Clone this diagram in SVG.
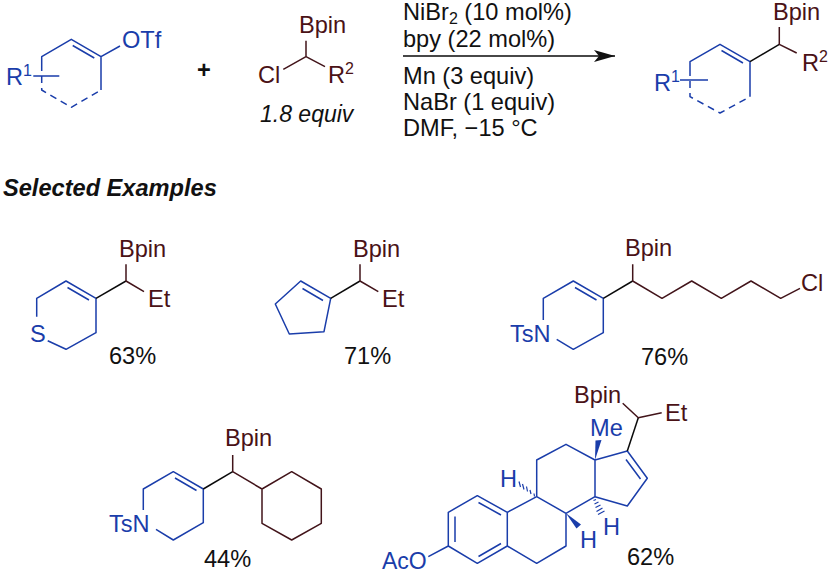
<svg xmlns="http://www.w3.org/2000/svg" width="829" height="574" viewBox="0 0 829 574">
<style>
text{font-family:"Liberation Sans",Arial,sans-serif;font-size:23.6px;fill:#111}
.b{fill:#1a3daa}.r{fill:#4a1216}
.s{font-size:16px}
path{fill:none;stroke-width:1.5;stroke-linejoin:round;stroke-linecap:butt}
.pb{stroke:#1a3daa}.pr{stroke:#42141a}.pk{stroke:#0a0a0a}
.d{stroke-dasharray:7 5}
.f{fill:#1a3daa;stroke:none}
.h{stroke:#1a3daa;stroke-width:1.2}
</style>
<defs>
<marker id="ah" markerUnits="userSpaceOnUse" markerWidth="22" markerHeight="14" refX="21" refY="7" orient="auto"><path d="M0 1 L21 7 L0 13 L5 7Z" style="fill:#111;stroke:none"/></marker>
</defs>
<rect width="829" height="574" fill="#fff"/>
<g id="connectors"><path d="M403 56H615" class="pk" marker-end="url(#ah)"/></g>
<g id="reactant-triflate">
<path class="pb" d="M41.7 64V56.7L71.3 39.3L101 56.7V90M72.7 45.5L94.3 58M101 56.7L120 46M33.3 76H59.3"/>
<path class="pb d" d="M41.7 64V90L71.3 107.3L101 90"/>
<text class="b" x="122" y="48">OTf</text><text class="b" x="6" y="85">R<tspan class="s" dy="-9">1</tspan></text>
</g>
<g id="plus"><text x="197" y="78" style="font-weight:bold">+</text></g>
<g id="reactant-chloride">
<path class="pr" d="M306 40.7V56.7M283.3 69.3L306 56.7L325 66.7"/>
<text class="r" x="299" y="32.7">Bpin</text><text class="r" x="258" y="83.3">Cl</text><text class="r" x="328" y="83">R<tspan class="s" dy="-9">2</tspan></text>
<text x="260" y="121.7" style="font-style:italic;font-size:23px">1.8 equiv</text>
</g>
<g id="conditions">
<text x="403" y="20">NiBr<tspan class="s" dy="4">2</tspan><tspan dy="-4"> (10 mol%)</tspan></text>
<text x="403" y="47">bpy (22 mol%)</text>
<text x="403" y="84">Mn (3 equiv)</text>
<text x="403" y="110">NaBr (1 equiv)</text>
<text x="403" y="136">DMF, −15 °C</text>
</g>
<g id="product">
<path class="pb" d="M690 69V61.7L720 44.3L750 61.7V96.7M721.5 50.5L743 63M680 80H708"/>
<path class="pb d" d="M690 69V96.7L720 113L750 96.7"/>
<path class="pk" d="M750 61.7L779.3 44.3"/>
<path class="pr" d="M779.3 27V44.3L796.7 53"/>
<text class="r" x="773" y="20">Bpin</text><text class="r" x="802" y="71">R<tspan class="s" dy="-9">2</tspan></text><text class="b" x="654" y="91">R<tspan class="s" dy="-9">1</tspan></text>
</g>
<g id="heading"><text x="3" y="196" style="font-weight:bold;font-style:italic">Selected Examples</text></g>
<g id="ex-63">
<path class="pb" d="M36.7 316.7V298.3L66 281L96 298.3V332.7L66 349.3L47.7 340.7M67.5 287.5L89 300"/>
<path class="pk" d="M96 298.3L126 281"/><path class="pr" d="M126 264.3V281L144 291.7"/>
<text class="b" x="30" y="341.5">S</text><text class="r" x="119" y="256.7">Bpin</text><text class="r" x="148" y="307">Et</text><text x="109" y="364">63%</text>
</g>
<g id="ex-71">
<path class="pb" d="M300.7 281L330.7 298.3L324 331.7L289.3 334L275.3 304ZM302.5 288.5L323 300.5"/>
<path class="pk" d="M330.7 298.3L360 281"/><path class="pr" d="M360 264.3V281L378.3 291.7"/>
<text class="r" x="353" y="256.7">Bpin</text><text class="r" x="382" y="307">Et</text><text x="344" y="364">71%</text>
</g>
<g id="ex-76">
<path class="pb" d="M543.3 320V298.3L573.3 281L603.3 298.3V332.7L573.3 349.3L556.7 339.3M575 287.5L596.5 300"/>
<path class="pk" d="M603.3 298.3L632.7 281"/>
<path class="pr" d="M632.7 264.3V281L662 298.3L691.7 281L721.3 298.3L751 281L780.7 298.3L800 288.3"/>
<text class="b" x="510" y="341.7">TsN</text><text class="r" x="625" y="255.7">Bpin</text><text class="r" x="801" y="290.7">Cl</text><text x="641" y="365">76%</text>
</g>
<g id="ex-44">
<path class="pb" d="M143.3 510V489L173.3 471.7L203.3 489V522.7L173.3 540L156 529.3M175 478L196.5 490.5"/>
<path class="pk" d="M203.3 489L232.7 471.7"/>
<path class="pr" d="M232.7 455V471.7L262 489L291.7 471.7L321.3 489V523.3L291.7 540L262 523.3V489"/>
<text class="b" x="109" y="532.3">TsN</text><text class="r" x="225" y="446">Bpin</text><text x="204" y="566.7">44%</text>
</g>
<g id="ex-62">
<path class="pb" d="M428.3 556.7L448.3 546V512.3L477.3 495.7L507.3 512.3V546L477.3 563.3L448.3 546M455 542V516.5M478.5 502.5L501 515M478.5 556.5L501 543.5"/>
<path class="pb" d="M507.3 512.3L536.7 496.7L566 513.3V546L536.7 563.3L507.3 546M536.7 496.7V460L566 444.3L595 460V496.7L566 513.3M595 460L627.3 451L647.3 478.3L627.3 506L595 496.7M626 459.5L640.5 479"/>
<path class="pk" d="M627.3 451L638.3 417.7"/>
<path class="pr" d="M622.7 403.3L638.3 417.7L661.7 412.7"/>
<path class="f" d="M595 460L595.5 440.5L601.5 440Z"/><path class="f" d="M566 513.3L576.5 528.5L581 524.5Z"/>
<path class="h" d="M534.5 496.5L534 493.5M531 494L530 490M527.5 491.5L526.5 486.5M524 489.5L522.5 484M520.5 487L519 481.5"/>
<path class="h" d="M596 499.5L593.5 500.5M598.5 502L594.5 504M600.5 505L595.5 507.5M602.5 508L596.5 511.5M604.5 511L598 514.5"/>
<text class="b" x="382" y="569" style="font-size:23px">AcO</text><text class="b" x="590" y="436">Me</text><text class="b" x="500" y="487.3">H</text><text class="b" x="603" y="535">H</text><text class="b" x="580" y="548">H</text>
<text class="r" x="574" y="402.7">Bpin</text><text class="r" x="665" y="420.7">Et</text><text x="627" y="565">62%</text>
</g>
</svg>
